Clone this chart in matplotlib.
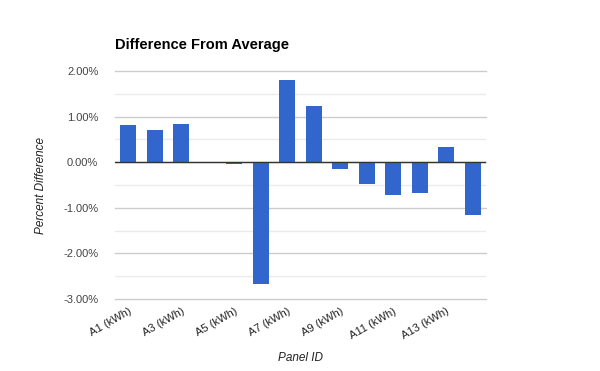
import numpy as np
import matplotlib.pyplot as plt
from matplotlib.ticker import FuncFormatter, MultipleLocator

plt.rcParams['font.family'] = ['Liberation Sans', 'DejaVu Sans']

panels = ["A%d (kWh)" % i for i in range(1, 15)]
diff_pct = [0.82, 0.71, 0.84, 0.0, -0.03, -2.67, 1.81, 1.24,
            -0.15, -0.47, -0.71, -0.67, 0.34, -1.15]

fig = plt.figure(figsize=(6, 3.71), dpi=100)
ax = fig.add_axes([0.1917, 0.194, 0.6183, 0.6146])

x = np.arange(len(panels))
ax.bar(x, diff_pct, width=0.6, color='#3366cc', zorder=3)

ax.set_xlim(-0.5, len(panels) - 0.5)
ax.set_ylim(-3, 2)
ax.yaxis.set_major_locator(MultipleLocator(1))
ax.yaxis.set_minor_locator(MultipleLocator(0.5))
ax.yaxis.set_major_formatter(FuncFormatter(lambda v, p: "%.2f%%" % v))
ax.grid(axis='y', which='minor', color='#ebebeb', lw=1, zorder=0)
ax.grid(axis='y', which='major', color='#cccccc', lw=1, zorder=1)
for gl in ax.yaxis.get_gridlines():
    gl.set_clip_on(False)
ax.axhline(0, color='#333333', lw=1, zorder=4)

for s in ax.spines.values():
    s.set_visible(False)
ax.tick_params(which='both', length=0)
ax.tick_params(axis='y', labelsize=8, labelcolor='#444444', pad=12)
ax.set_xticks(x[::2])
ax.set_xticklabels(panels[::2], rotation=30, ha='right', rotation_mode='anchor',
                   fontsize=8, color='#222222')
ax.tick_params(axis='x', pad=5)

ax.set_xlabel('Panel ID', fontsize=8.5, style='italic', color='#222222', labelpad=8)
ax.set_ylabel('Percent Difference', fontsize=8.5, style='italic', color='#222222', labelpad=12)
fig.text(115 / 600, 1 - 45 / 371, 'Difference From Average', fontsize=10.5,
         fontweight='bold', color='#000000', va='center', ha='left')

fig.savefig('out.png', dpi=100)
